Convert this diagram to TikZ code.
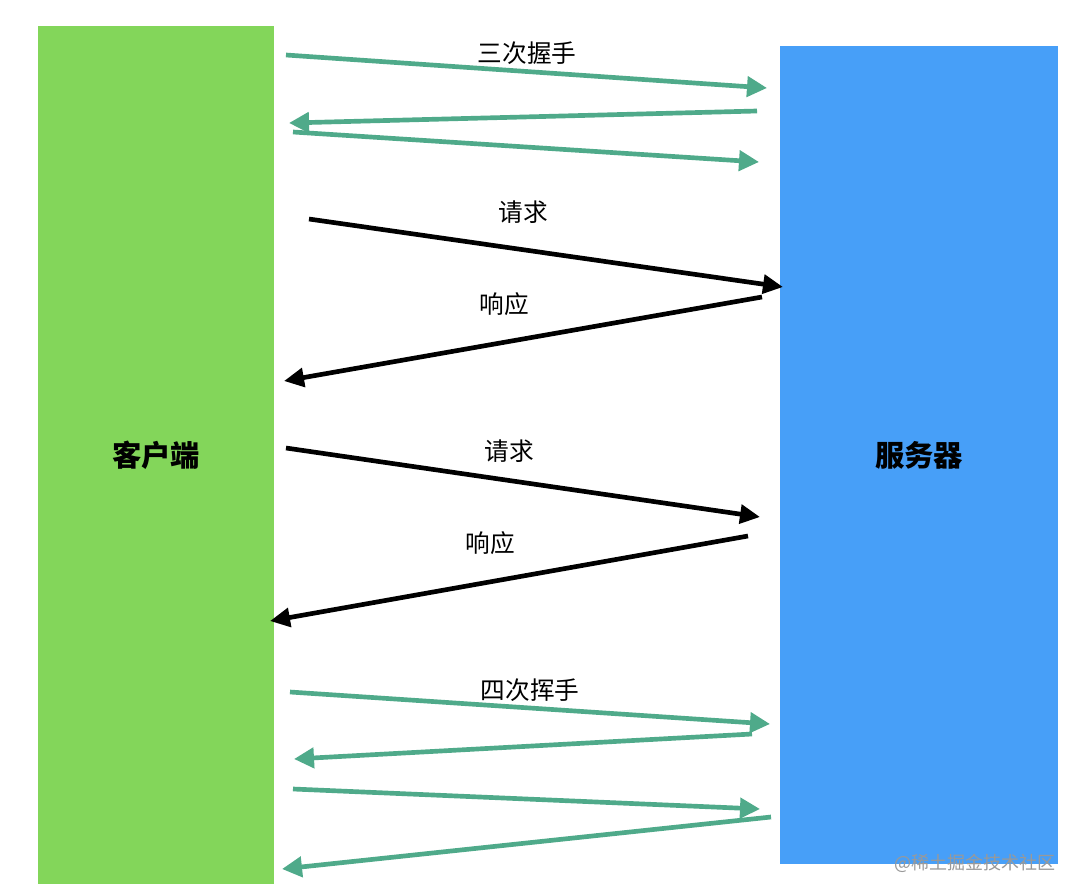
\documentclass[tikz,border=0pt]{standalone}
\usepackage{fontspec}
\newfontfamily\cjk{Noto Sans CJK SC}
\usetikzlibrary{arrows.meta}
\definecolor{clientgreen}{HTML}{83D65A}
\definecolor{serverblue}{HTML}{479FF8}
\definecolor{shakegreen}{HTML}{4FAA8A}
\tikzset{
  box/.style={draw=none, inner sep=0pt, outer sep=0pt, font=\cjk\bfseries\fontsize{22}{25}\selectfont},
  shake/.style={draw=shakegreen, line width=3.5pt, -{Triangle[length=15pt,width=15pt]}},
  msg/.style={draw=black, line width=3.5pt, -{Triangle[length=15pt,width=14pt]}},
  lbl/.style={font=\cjk\fontsize{18.5}{20}\selectfont, inner sep=0pt},
}
\begin{document}
\begin{tikzpicture}[x=0.75pt,y=-0.75pt]
\useasboundingbox (0,0) rectangle (1080,895);
\fill[white] (0,0) rectangle (1080,895);
\node[box, fill=clientgreen, minimum width=236*0.75pt, minimum height=858*0.75pt, anchor=north west] (client) at (38,26) {客户端};
\node[box, fill=serverblue, minimum width=278*0.75pt, minimum height=818*0.75pt, anchor=north west] (server) at (780,46) {服务器};
% endpoints
\coordinate (a1s) at (286,55);  \coordinate (a1e) at (767,88);
\coordinate (a2s) at (757,111); \coordinate (a2e) at (289,123);
\coordinate (a3s) at (293,132); \coordinate (a3e) at (759,162);
\coordinate (b1s) at (309,219); \coordinate (b1e) at (783,287);
\coordinate (b2s) at (762,297); \coordinate (b2e) at (284,381);
\coordinate (b3s) at (286,448); \coordinate (b3e) at (760,517);
\coordinate (b4s) at (748,536); \coordinate (b4e) at (270,621);
\coordinate (c1s) at (290,692); \coordinate (c1e) at (770,724);
\coordinate (c2s) at (752,734); \coordinate (c2e) at (294,759);
\coordinate (c3s) at (293,789); \coordinate (c3e) at (760,809);
\coordinate (c4s) at (771,817); \coordinate (c4e) at (282,869);
\draw[shake] (a1s) -- (a1e);
\draw[shake] (a2s) -- (a2e);
\draw[shake] (a3s) -- (a3e);
\draw[msg] (b1s) -- (b1e);
\draw[msg] (b2s) -- (b2e);
\draw[msg] (b3s) -- (b3e);
\draw[msg] (b4s) -- (b4e);
\draw[shake] (c1s) -- (c1e);
\draw[shake] (c2s) -- (c2e);
\draw[shake] (c3s) -- (c3e);
\draw[shake] (c4s) -- (c4e);
\node[lbl] (l1) at (527,53) {三次握手};
\node[lbl] (l2) at (523,212) {请求};
\node[lbl] (l3) at (504,304) {响应};
\node[lbl] (l4) at (509,451) {请求};
\node[lbl] (l5) at (490,543) {响应};
\node[lbl] (l6) at (530,690) {四次挥手};
\node[font=\cjk\fontsize{13.5}{15}\selectfont, text=black!40, inner sep=0pt, anchor=east] (wm) at (1056,863) {@稀土掘金技术社区};
\end{tikzpicture}
\end{document}
